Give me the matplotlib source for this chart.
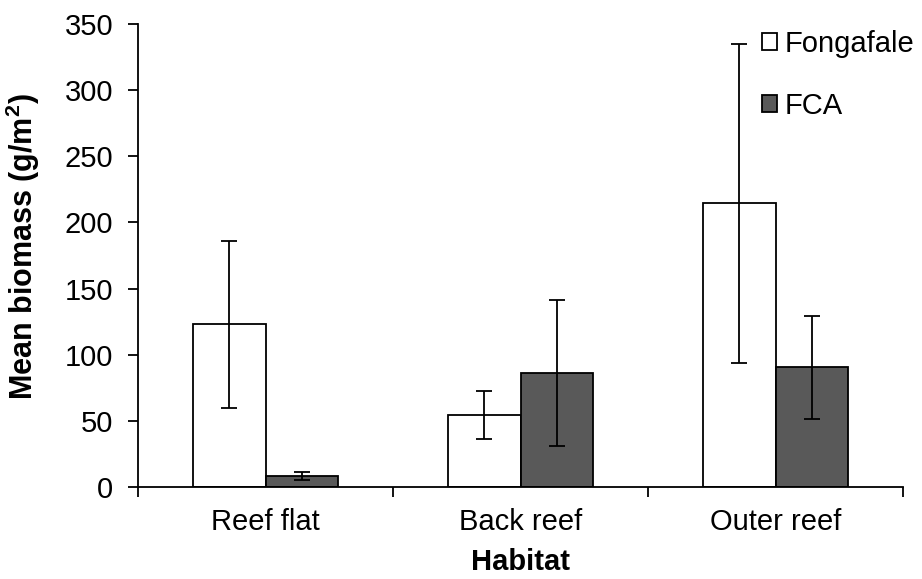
import matplotlib
matplotlib.use("Agg")
import matplotlib.pyplot as plt
import numpy as np

plt.rcParams['font.family'] = ['Liberation Sans', 'DejaVu Sans']

categories = ["Reef flat", "Back reef", "Outer reef"]
series_names = ["Fongafale", "FCA"]
fongafale_mean = [123, 54.5, 214.5]
fongafale_err = [63, 18, 120.5]
fca_mean = [8.5, 86.3, 90.5]
fca_err = [3, 55, 39]
y_ticks = [0, 50, 100, 150, 200, 250, 300, 350]

W, H = 922, 579
fig = plt.figure(figsize=(W/100, H/100), dpi=100)
ax = fig.add_axes([138/W, 1-487/H, (903-138)/W, (487-24)/H])

x = np.arange(len(categories))
w = 1/3.5
lw = 1.3
fs = 21
ekw = dict(elinewidth=lw, capthick=lw, ecolor='black')
ax.bar(x - w/2, fongafale_mean, w, yerr=fongafale_err, color='white', edgecolor='black',
       linewidth=lw, capsize=6, error_kw=ekw, label=series_names[0], zorder=2)
ax.bar(x + w/2, fca_mean, w, yerr=fca_err, color='#595959', edgecolor='black',
       linewidth=lw, capsize=6, error_kw=ekw, label=series_names[1], zorder=2)

ax.set_xlim(-0.5, len(categories) - 0.5)
ax.set_ylim(0, 350)
ax.set_yticks(y_ticks)
ax.set_xticks(x)
ax.set_xticklabels(categories)
ax.set_xticks(np.arange(len(categories) + 1) - 0.5, minor=True)
ax.tick_params(axis='x', which='major', length=0, pad=15, labelsize=fs)
ax.tick_params(axis='x', which='minor', length=7, width=lw, direction='out')
ax.tick_params(axis='y', length=7, width=lw, direction='out', labelsize=fs, pad=11)

for s in ['top', 'right']:
    ax.spines[s].set_visible(False)
for s in ['left', 'bottom']:
    ax.spines[s].set_linewidth(lw)

ax.set_xlabel("Habitat", fontsize=fs, fontweight='bold')
ax.xaxis.set_label_coords(0.5, (487-547.5)/463)
ax.set_ylabel("Mean biomass (g/m$^\\mathregular{2}$)", fontsize=22, fontweight='bold')
ax.yaxis.set_label_coords((42-138)/765, (487-246.5)/463)

leg = ax.legend(loc='upper left', bbox_to_anchor=(762/W, 1-30/H), bbox_transform=fig.transFigure,
                frameon=False, fontsize=fs, handlelength=0.52, handleheight=0.52,
                handletextpad=0.25, labelspacing=1.17, borderpad=0, borderaxespad=0)

fig.savefig("out.png", dpi=100)
